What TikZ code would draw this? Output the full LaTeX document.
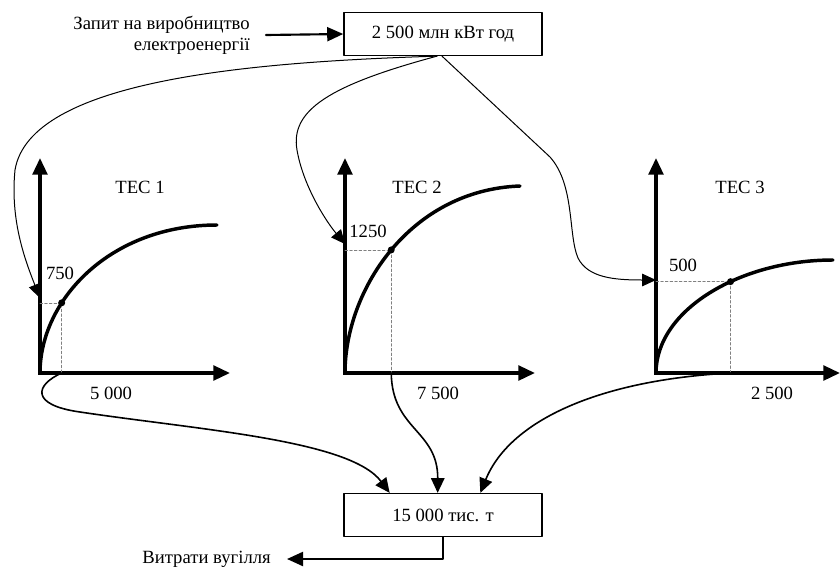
\documentclass[tikz,border=0pt]{standalone}
\usepackage{fontspec}
\setmainfont{Liberation Serif}
\usetikzlibrary{arrows.meta}
\begin{document}
\begin{tikzpicture}[x=0.75pt,y=-0.75pt,line cap=round,line join=round,
  font=\fontsize{14}{16}\selectfont,
  axis/.style={line width=2.6pt,line join=miter,{Triangle[length=12.5pt,width=11pt]}-{Triangle[length=12.5pt,width=11pt]}},
  curve/.style={line width=2.6pt},
  link/.style={line width=0.75pt,-{Triangle[length=10.5pt,width=9.5pt]}},
  sink/.style={line width=1.2pt,-{Triangle[length=11pt,width=10pt]}},
  feed/.style={line width=1.6pt,-{Triangle[length=12pt,width=10.5pt]}},
  guide/.style={gray,line width=0.5pt,dash pattern=on 2pt off 1.5pt},
  box/.style={draw,line width=1.2pt,minimum width=148.5pt,minimum height=32pt}]
\useasboundingbox (0,0) rectangle (840,572);

\node[box] (req) at (443,34) {2 500 млн кВт год};
\node[box] (coal) at (443,515) {15 000 тис. т};
\node[anchor=east,align=right,inner xsep=12pt,inner ysep=0pt] (reqtext) at (266,35) {Запит на виробництво\\електроенергії};
\node[anchor=east,inner xsep=12pt] (outtext) at (287,559) {Витрати вугілля};
\draw[feed] (reqtext.east) -- (req.west);
\draw[feed] (coal.south) |- (outtext.east);

\foreach \n/\ox/\xe in {1/40/230,2/345/535,3/656/840}{
  \coordinate (o\n) at (\ox,373);
  \draw[axis] (\ox,158) -- (o\n) -- (\xe,373);
}
\draw[curve] (o1) .. controls (40,300) and (110,225) .. (217,225) coordinate[pos=0.33] (p1);
\draw[curve] (o2) .. controls (345,290) and (410,190) .. (520,186) coordinate[pos=0.5] (p2);
\draw[curve] (o3) .. controls (656,310) and (740,260) .. (833,260) coordinate[pos=0.6] (p3);
\foreach \n in {1,2,3}{
  \draw[guide] (o\n |- p\n) -- (p\n) -- (p\n |- o\n);
  \fill (p\n) circle (3.5);
}

\node (t1) at (140,187) {ТЕС 1};
\node (t2) at (417,187) {ТЕС 2};
\node (t3) at (740,187) {ТЕС 3};
\node (v1) at (60,273) {750};
\node (v2) at (368,231) {1250};
\node (v3) at (683,265) {500};
\node (q1) at (111,393) {5 000};
\node (q2) at (438,393) {7 500};
\node (q3) at (772,393) {2 500};

\coordinate (e1) at (40,298);
\coordinate (e2) at (345,244);
\coordinate (e3) at (656,280);
\draw[link] ([xshift=-4.5pt]req.south) .. controls (250,62) and (30,80) .. (15,170)
  .. controls (10,220) and (25,260) .. (e1);
\draw[link] ([xshift=-4.5pt]req.south) .. controls (330,85) and (290,110) .. (297,150)
  .. controls (303,185) and (325,220) .. (e2);
\draw[link] ([xshift=-0.75pt]req.south) -- (550,157) .. controls (575,185) and (568,235) .. (578,258)
  .. controls (588,278) and (615,280) .. (e3);

\draw[sink] (p1 |- o1) .. controls (35,385) and (30,405) .. (80,412)
  .. controls (200,430) and (350,440) .. ([xshift=-40pt]coal.north);
\draw[sink] (p2 |- o2) .. controls (392,430) and (438,430) .. ([xshift=-4pt]coal.north);
\draw[sink] (p3 |- o3) .. controls (600,380) and (510,420) .. ([xshift=28pt]coal.north);
\end{tikzpicture}
\end{document}
